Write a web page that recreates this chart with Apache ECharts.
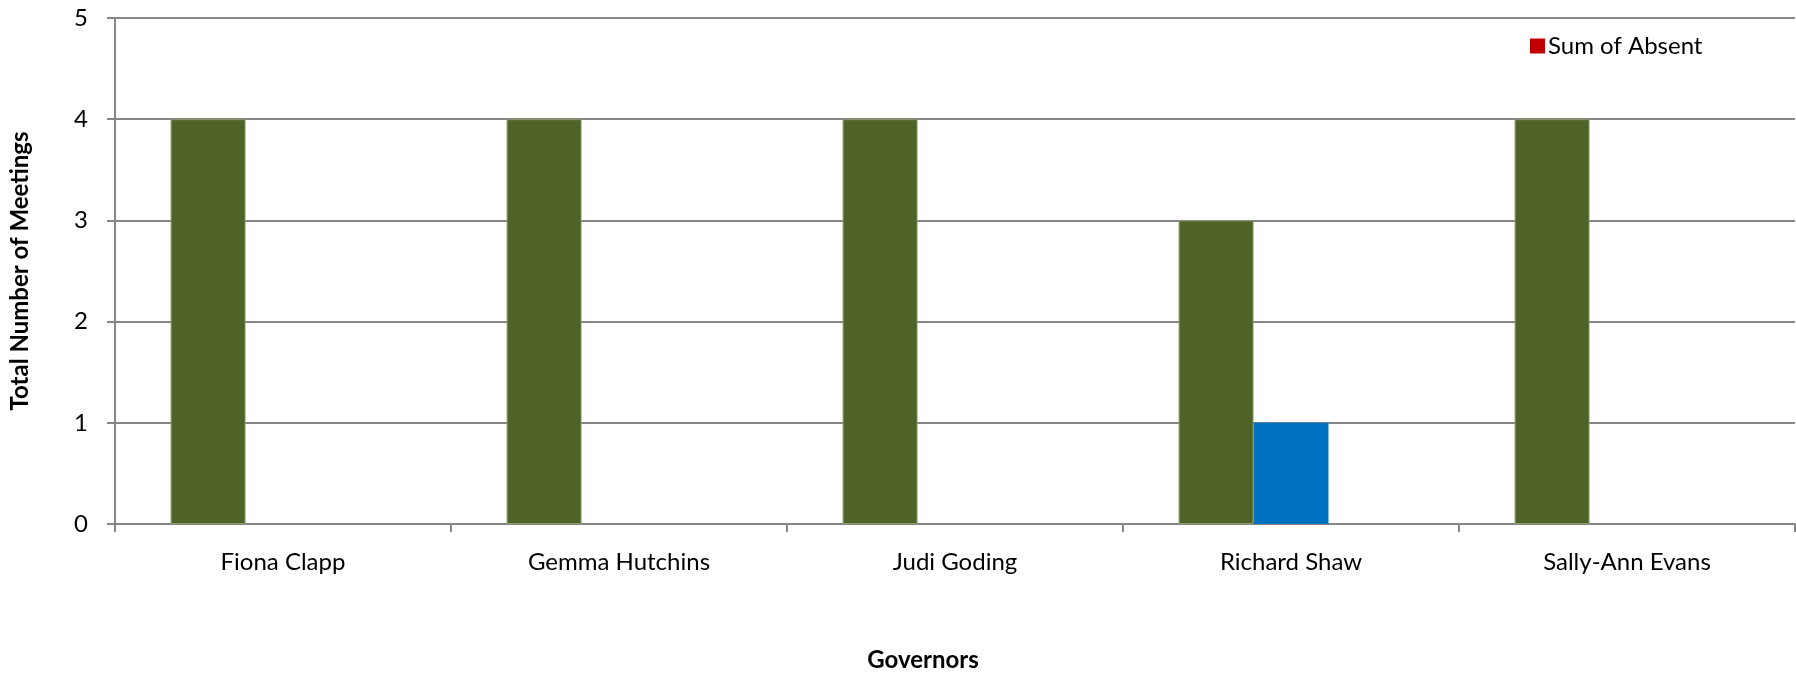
<!DOCTYPE html>
<html>
<head>
<meta charset="utf-8">
<script src="https://cdn.jsdelivr.net/npm/echarts@6/dist/echarts.min.js"></script>
<style>
html,body{margin:0;padding:0;background:#fff;}
#chart{width:1796px;height:677px;}
</style>
</head>
<body>
<div id="chart"></div>
<script>
const categories = ['Fiona Clapp', 'Gemma Hutchins', 'Judi Goding', 'Richard Shaw', 'Sally-Ann Evans'];
const presentValues = [4, 4, 4, 3, 4];
const apologiesValues = [0, 0, 0, 1, 0];
const absentValues = [0, 0, 0, 0, 0];
const yTicks = [0, 1, 2, 3, 4, 5];

const FONT = 'Lato';
const chart = echarts.init(document.getElementById('chart'));
chart.setOption({
  animation: false,
  backgroundColor: '#ffffff',
  textStyle: { fontFamily: FONT },
  grid: { left: 113, right: 1, top: 18, bottom: 148, containLabel: false },
  legend: {
    show: true,
    left: 1525,
    top: 29,
    itemWidth: 15,
    itemHeight: 15,
    itemGap: 6,
    icon: 'rect',
    textStyle: { fontFamily: FONT, fontSize: 24, color: '#000', padding: [0, 0, 0, -2] },
    data: [{ name: 'Sum of Absent', itemStyle: { color: '#C00000' } }]
  },
  xAxis: {
    type: 'category',
    data: categories,
    name: 'Governors',
    nameLocation: 'middle',
    nameGap: 124,
    nameTextStyle: { fontFamily: FONT, fontSize: 24, fontWeight: 'bold', color: '#000', padding: [0, 64, 0, 0] },
    axisLine: { lineStyle: { color: '#868686', width: 2 } },
    axisTick: { show: true, length: 8, alignWithLabel: false, lineStyle: { color: '#868686', width: 2 } },
    axisLabel: { fontFamily: FONT, fontSize: 24, color: '#000', margin: 26 },
    splitLine: { show: false }
  },
  yAxis: {
    type: 'value',
    min: 0,
    max: 5,
    interval: 1,
    name: 'Total Number of Meetings',
    nameLocation: 'middle',
    nameGap: 83,
    nameTextStyle: { fontFamily: FONT, fontSize: 24, fontWeight: 'bold', color: '#000' },
    axisLine: { show: true, lineStyle: { color: '#868686', width: 2 } },
    axisTick: { show: true, length: 8, lineStyle: { color: '#868686', width: 2 } },
    axisLabel: {
      fontFamily: FONT, fontSize: 24, color: '#000', margin: 27,
      formatter: function (v) { return yTicks.indexOf(v) >= 0 ? String(v) : ''; }
    },
    splitLine: { show: true, lineStyle: { color: '#868686', width: 2 } }
  },
  series: [
    {
      name: 'Sum of Present',
      type: 'bar',
      data: presentValues,
      barWidth: '22.3%',
      barGap: '0%',
      itemStyle: { color: '#4F6228', borderColor: '#8A9A6A', borderWidth: 1 }
    },
    {
      name: 'Sum of Apologies',
      type: 'bar',
      data: apologiesValues,
      barWidth: '22.3%',
      barGap: '0%',
      itemStyle: { color: '#0070C0' }
    },
    {
      name: 'Sum of Absent',
      type: 'bar',
      data: absentValues,
      barWidth: '22.3%',
      barGap: '0%',
      itemStyle: { color: '#C00000' }
    }
  ]
});
</script>
</body>
</html>
